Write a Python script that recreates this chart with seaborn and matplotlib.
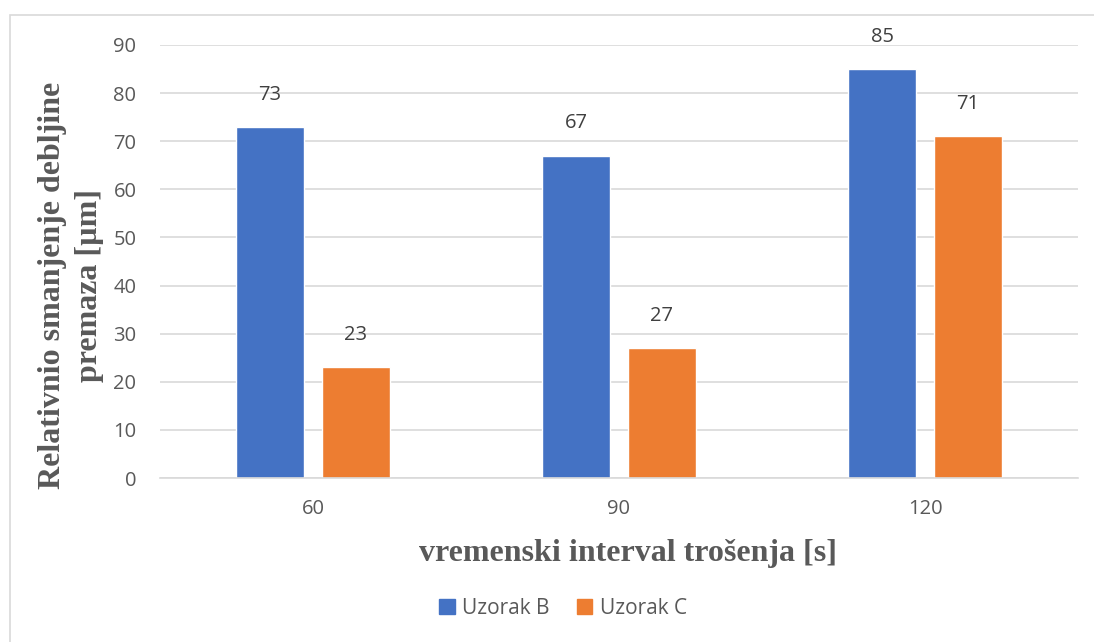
import matplotlib
matplotlib.use("Agg")
import matplotlib.pyplot as plt
import matplotlib.patches as mpatches
import seaborn as sns
import pandas as pd

# data
intervals = ["60", "90", "120"]
uzorak_b = [73, 67, 85]
uzorak_c = [23, 27, 71]
series_names = ["Uzorak B", "Uzorak C"]
colors = ["#4472C4", "#ED7D31"]

df = pd.DataFrame({
    "interval": intervals * 2,
    "value": uzorak_b + uzorak_c,
    "series": [series_names[0]] * 3 + [series_names[1]] * 3,
})

sns.set_theme(style="white")
plt.rcParams['font.family'] = ['Open Sans', 'DejaVu Sans']

W, H = 1094, 642
fig = plt.figure(figsize=(W / 100, H / 100), dpi=100)
ax = fig.add_axes([160 / W, 1 - 478 / H, (1078 - 160) / W, (478 - 45) / H])

sns.barplot(data=df, x="interval", y="value", hue="series", order=intervals,
            hue_order=series_names, palette=colors, width=0.562, gap=0.206,
            saturation=1, ax=ax, legend=False)

ax.set_ylim(0, 90)
ax.set_yticks(range(0, 91, 10))
ax.yaxis.grid(True, color="#d9d9d9", linewidth=1.2)
ax.set_axisbelow(True)
for s in ["top", "right", "left"]:
    ax.spines[s].set_visible(False)
ax.spines["bottom"].set_color("#d9d9d9")
ax.spines["bottom"].set_linewidth(1.2)
ax.tick_params(axis="both", length=0, labelsize=14.5, colors="#595959")
ax.tick_params(axis="y", pad=17)
ax.tick_params(axis="x", pad=15)

# data labels
for cont in ax.containers:
    ax.bar_label(cont, padding=16, fontsize=14.5, color="#404040")

serif = ["Liberation Serif", "DejaVu Serif"]
ax.set_xlabel("vremenski interval trošenja [s]", family=serif, fontweight="bold",
              fontsize=23, color="#595959")
ax.xaxis.set_label_coords((628 - 160) / 918, -0.14)
ax.set_ylabel("Relativnio smanjenje debljine\npremaza [µm]", family=serif,
              fontweight="bold", fontsize=23, color="#595959", linespacing=1.35)
ax.yaxis.set_label_coords((104 - 160) / 918, 0.445)

handles = [mpatches.Patch(color=c, label=n) for c, n in zip(colors, series_names)]
fig.legend(handles=handles, loc="center", bbox_to_anchor=(563 / W, 1 - 608 / H),
           ncol=2, frameon=False, fontsize=15, handlelength=0.75, handleheight=0.75,
           columnspacing=1.3, handletextpad=0.35, labelcolor="#595959")

# chart area border
fig.patches.append(mpatches.Rectangle((10 / W, -0.01), 1.02, 1 - 15 / H + 0.01,
                                      transform=fig.transFigure, fill=False,
                                      edgecolor="#d9d9d9", linewidth=1.2))

fig.savefig("out.png", dpi=100)
